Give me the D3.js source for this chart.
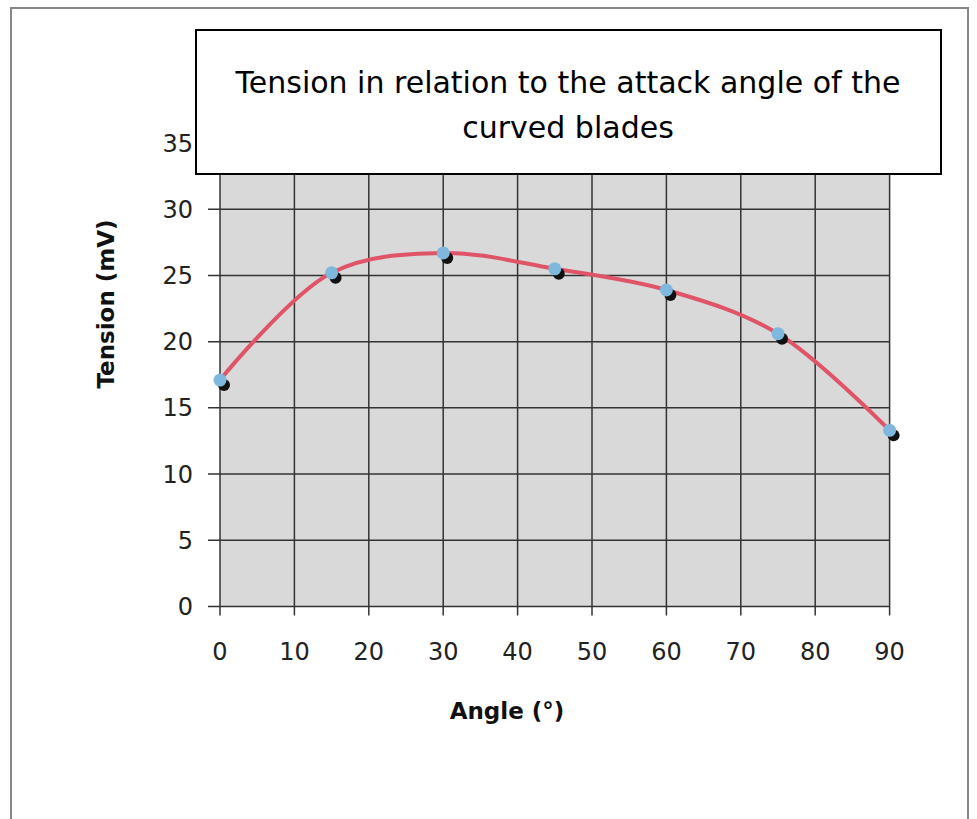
<!DOCTYPE html>
<html><head><meta charset="utf-8">
<script src="https://cdn.jsdelivr.net/npm/d3@7"></script>
<style>body{margin:0;background:#fff}</style>
</head><body>
<script>
const angles = [0, 15, 30, 45, 60, 75, 90];
const tension = [17.1, 25.2, 26.7, 25.5, 23.9, 20.6, 13.3];
const xTicks = [0,10,20,30,40,50,60,70,80,90];
const yTicks = [0,5,10,15,20,25,30,35];
const titleLines = ["Tension in relation to the attack angle of the", "curved blades"];
const xTitle = "Angle (°)";
const yTitle = "Tension (mV)";

const W = 977, H = 819;
const svg = d3.select("body").append("svg").attr("width", W).attr("height", H);

// outer frame
svg.append("path").attr("d", `M11,${H} L11,8 L968,8 L968,${H}`)
  .attr("fill","none").attr("stroke","#888").attr("stroke-width",2);

const x = d3.scaleLinear().domain([0,90]).range([220, 889.6]);
const y = d3.scaleLinear().domain([0,35]).range([606.5, 143]);

// plot bg
svg.append("rect").attr("x", x(0)).attr("y", y(35)).attr("width", x(90)-x(0)).attr("height", y(0)-y(35))
  .attr("fill", "#d9d9d9");

// gridlines
svg.append("g").selectAll("line").data(yTicks).join("line")
  .attr("x1", x(0)-12).attr("x2", x(90)).attr("y1", d=>y(d)).attr("y2", d=>y(d))
  .attr("stroke", "#333").attr("stroke-width", 1.5);
svg.append("g").selectAll("line").data(xTicks).join("line")
  .attr("x1", d=>x(d)).attr("x2", d=>x(d)).attr("y1", y(35)).attr("y2", y(0)+9)
  .attr("stroke", "#333").attr("stroke-width", 1.5);

// tick labels
svg.append("g").selectAll("text").data(yTicks).join("text")
  .attr("x", 193).attr("y", d=>y(d)).attr("dy","0.36em").attr("text-anchor","end")
  .attr("font-family","DejaVu Sans, Verdana, sans-serif").attr("font-size", 24).attr("fill","#222")
  .text(d=>d);
svg.append("g").selectAll("text").data(xTicks).join("text")
  .attr("x", d=>x(d)).attr("y", 651).attr("dy","0.36em").attr("text-anchor","middle")
  .attr("font-family","DejaVu Sans, Verdana, sans-serif").attr("font-size", 24).attr("fill","#222")
  .text(d=>d);

// axis titles
svg.append("text").attr("x", 507).attr("y", 719).attr("text-anchor","middle")
  .attr("font-family","DejaVu Sans, sans-serif").attr("font-weight","bold").attr("font-size", 23)
  .attr("fill","#111").text(xTitle);
svg.append("text").attr("transform","translate(114,304) rotate(-90)").attr("text-anchor","middle")
  .attr("font-family","DejaVu Sans, sans-serif").attr("font-weight","bold").attr("font-size", 23)
  .attr("fill","#111").text(yTitle);

const pts = angles.map((a,i)=>({a, t: tension[i]}));

// line
const line = d3.line().x(d=>x(d.a)).y(d=>y(d.t)).curve(d3.curveCatmullRom.alpha(0.5));
svg.append("path").datum(pts).attr("d", line).attr("fill","none")
  .attr("stroke","#e05468").attr("stroke-width",4).attr("stroke-linecap","round");

// markers: shadow + blue
svg.append("g").selectAll("circle").data(pts).join("circle")
  .attr("cx", d=>x(d.a)+4).attr("cy", d=>y(d.t)+5).attr("r", 6).attr("fill","#111");
svg.append("g").selectAll("circle").data(pts).join("circle")
  .attr("cx", d=>x(d.a)).attr("cy", d=>y(d.t)).attr("r", 6.5).attr("fill","#7fb8dc");

// title box
svg.append("rect").attr("x",196).attr("y",30).attr("width",745).attr("height",144)
  .attr("fill","#fff").attr("stroke","#000").attr("stroke-width",2);
svg.append("g").selectAll("text").data(titleLines).join("text")
  .attr("x", 568).attr("y",(d,i)=>93+i*45).attr("text-anchor","middle")
  .attr("font-family","DejaVu Sans, sans-serif").attr("font-size", 30).attr("fill","#000")
  .text(d=>d);
</script>
</body></html>
